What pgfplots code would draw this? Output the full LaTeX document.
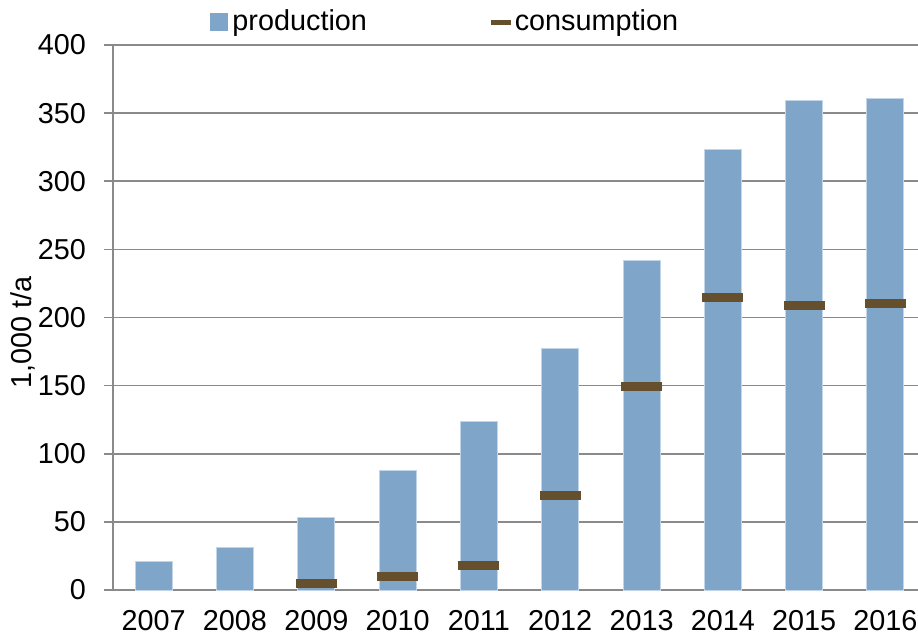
\documentclass[border=0pt]{standalone}
\usepackage{pgfplots}
\pgfplotsset{compat=1.18}
\usetikzlibrary{calc}
\usepackage{fontspec}
\setmainfont{Liberation Sans}
\definecolor{barblue}{HTML}{7FA6C8}
\definecolor{baredge}{HTML}{C3D5E8}
\definecolor{consbrown}{HTML}{654F2D}
\definecolor{gridgray}{HTML}{8A8A8A}
\pgfdeclareplotmark{consdash}{\pgfpathrectangle{\pgfpoint{-10.25pt}{-2.25pt}}{\pgfpoint{20.5pt}{4.5pt}}\pgfusepathqfill}
\begin{document}
\fontsize{14.4pt}{17pt}\selectfont
\begin{tikzpicture}
\begin{axis}[
  name=ax,
  scale only axis,
  width=402.5pt, height=272.5pt,
  xmin=-0.5, xmax=9.4,
  ymin=0, ymax=400,
  axis lines*=left,
  axis line style={color=gridgray, line width=0.75pt},
  xtick={0,...,9},
  xticklabels={2007,2008,2009,2010,2011,2012,2013,2014,2015,2016},
  xtick style={draw=none},
  xticklabel style={yshift=-0.5pt},
  ytick={0,50,...,400},
  tick align=outside,
  major tick length=4.5pt,
  ytick style={color=gridgray, line width=0.75pt},
  yticklabel style={xshift=-4pt},
  ymajorgrids,
  major grid style={color=gridgray, line width=0.75pt},
  /pgf/number format/assume math mode=true,
  ylabel={1,000 t/a},
  ylabel style={at={(axis description cs:-0.112,0.473)}, anchor=center},
  legend columns=2,
  legend style={at={(axis description cs:0.414,1.042)}, anchor=center, draw=none, fill=none,
    /tikz/every even column/.append style={column sep=60pt}},
]
\addplot[ybar, bar width=18.5pt, fill=barblue, draw=baredge, line width=0.5pt,
  legend image code/.code={\fill[barblue] (0pt,-4.25pt) rectangle (8.5pt,4.25pt);}]
  coordinates {(0,21) (1,31) (2,53) (3,88) (4,124) (5,177) (6,242) (7,323) (8,359) (9,361)};
\addlegendentry{production}
\addplot[only marks, mark=consdash, color=consbrown,
  legend image code/.code={\fill[consbrown] (0pt,-1pt) rectangle (9.5pt,1pt);}]
  coordinates {(2,5) (3,10) (4,18) (5,69) (6,149) (7,215) (8,209) (9,210)};
\addlegendentry{consumption}
\end{axis}
\pgfresetboundingbox
\path ($(ax.south west)+(-56.5pt,-24.5pt)$) rectangle ($(ax.north east)+(0pt,22.5pt)$);
\end{tikzpicture}
\end{document}
